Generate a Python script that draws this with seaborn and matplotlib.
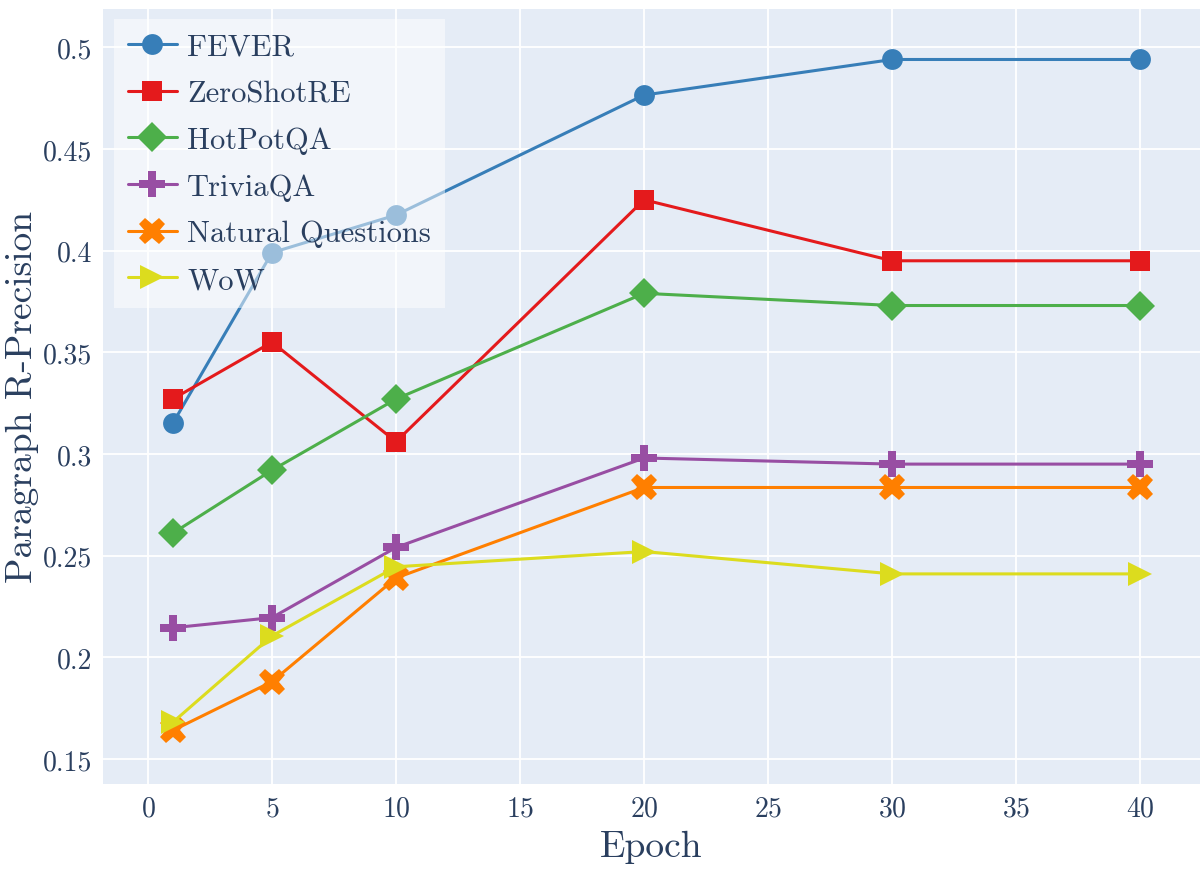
import matplotlib
matplotlib.use("Agg")
import matplotlib.pyplot as plt
import matplotlib.ticker as mticker
import pandas as pd
import seaborn as sns

# Data
epochs = [1, 5, 10, 20, 30, 40]
fever = [0.315, 0.399, 0.4175, 0.4765, 0.494, 0.494]
zeroshot_re = [0.327, 0.355, 0.306, 0.425, 0.395, 0.395]
hotpotqa = [0.261, 0.292, 0.327, 0.379, 0.373, 0.373]
triviaqa = [0.2145, 0.2195, 0.254, 0.298, 0.295, 0.295]
natural_questions = [0.164, 0.188, 0.239, 0.2835, 0.2835, 0.2835]
wow = [0.168, 0.2105, 0.2445, 0.252, 0.241, 0.241]

datasets = ["FEVER", "ZeroShotRE", "HotPotQA", "TriviaQA", "Natural Questions", "WoW"]
series = [fever, zeroshot_re, hotpotqa, triviaqa, natural_questions, wow]
y_ticks = [0.15, 0.2, 0.25, 0.3, 0.35, 0.4, 0.45, 0.5]
x_ticks = [0, 5, 10, 15, 20, 25, 30, 35, 40]

colors = ["#377eb8", "#e41a1c", "#4daf4a", "#984ea3", "#ff7f00", "#dcdc1e"]
markers = ["o", "s", "D", "P", "X", ">"]
# some marker shapes look smaller at the same size, bump them
marker_sizes = {"o": 15, "s": 15, "D": 15, "P": 19, "X": 19, ">": 17}

# long table for seaborn
rows = []
for name, vals in zip(datasets, series):
    for e, v in zip(epochs, vals):
        rows.append({"Epoch": e, "value": v, "dataset": name})
df = pd.DataFrame(rows)

sns.set_theme(style="darkgrid")
text_col = "#2a3f5f"
plt.rcParams["font.family"] = ["cmr10", "DejaVu Serif"]
plt.rcParams["mathtext.fontset"] = "cm"
plt.rcParams["axes.formatter.use_mathtext"] = True

fig = plt.figure(figsize=(12.01, 8.78), dpi=100)
ax = fig.add_axes([0.086, 0.106, 0.913, 0.883])
ax.set_facecolor("#e5ecf6")

sns.lineplot(data=df, x="Epoch", y="value", hue="dataset", style="dataset",
             hue_order=datasets, style_order=datasets,
             palette=dict(zip(datasets, colors)),
             markers=dict(zip(datasets, markers)), dashes=False,
             markersize=15, linewidth=2.2, markeredgewidth=0, ax=ax)

for ln in ax.lines:
    m = ln.get_marker()
    if m in marker_sizes:
        ln.set_markersize(marker_sizes[m])

ax.set_xlim(-1.8, 42.4)
ax.set_ylim(0.1377, 0.519)
ax.set_xticks(x_ticks)
ax.set_yticks(y_ticks)
ax.yaxis.set_major_formatter(mticker.FuncFormatter(lambda v, p: f"{v:g}"))
ax.grid(color="white", linewidth=1.3)
ax.tick_params(axis="both", length=0, labelsize=20, labelcolor=text_col, pad=8)
for s in ax.spines.values():
    s.set_visible(False)

ax.set_xlabel("Epoch", fontsize=27, color=text_col, labelpad=6)
ax.set_ylabel("Paragraph R-Precision", fontsize=27, color=text_col, labelpad=3)

handles, labels = ax.get_legend_handles_labels()
for h in handles:
    m = h.get_marker()
    if m in marker_sizes:
        h.set_markersize(marker_sizes[m])
leg = ax.legend(handles, labels, loc="upper left", fontsize=22, frameon=True,
                facecolor="white", framealpha=0.5, edgecolor="none",
                borderaxespad=0.35, handlelength=1.6, handletextpad=0.35,
                labelspacing=0.63, fancybox=False, borderpad=0.45)
for t in leg.get_texts():
    t.set_color(text_col)

fig.savefig("out.png", dpi=100)
